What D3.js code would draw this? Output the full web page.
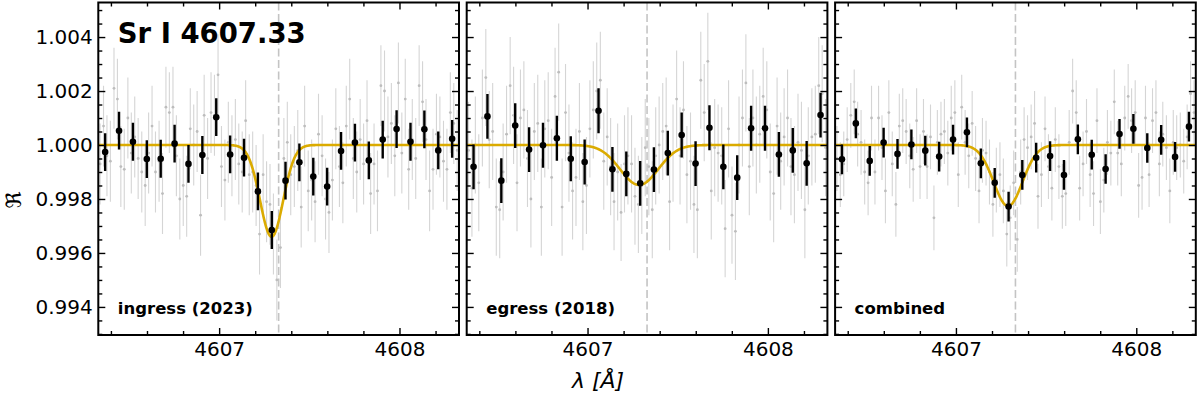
<!DOCTYPE html>
<html>
<head>
<meta charset="utf-8">
<script src="https://cdnjs.cloudflare.com/ajax/libs/d3/7.8.5/d3.min.js"></script>
<style>
  body { margin: 0; background: #fff; }
  text { font-family: "DejaVu Sans", sans-serif; }
</style>
</head>
<body>
<script>
//dimensions declarations
var width = 1200;
var height = 397;
var panelLeft = [98.3, 466.7, 835.1];
var panelW = 360.7;
var plotTop = 2.5, plotBottom = 335;

//dataset declarations
var panelNames = ["ingress (2023)", "egress (2018)", "combined"];
var lineLabel = "Sr I 4607.33";
var lineCenter = 4607.33;
var xDomain = [4606.33, 4608.33];
var yDomain = [0.99296, 1.00528];
var xMajor = [4607, 4608];
var yMajor = [0.994, 0.996, 0.998, 1.000, 1.002, 1.004];

// unbinned pixels (grey)
var wave = [4606.340, 4606.359, 4606.378, 4606.397, 4606.417, 4606.436, 4606.455, 4606.474,
  4606.494, 4606.513, 4606.532, 4606.551, 4606.571, 4606.590, 4606.609, 4606.628,
  4606.647, 4606.667, 4606.686, 4606.705, 4606.724, 4606.744, 4606.763, 4606.782,
  4606.801, 4606.820, 4606.840, 4606.859, 4606.878, 4606.897, 4606.917, 4606.936,
  4606.955, 4606.974, 4606.994, 4607.013, 4607.032, 4607.051, 4607.071, 4607.090,
  4607.109, 4607.128, 4607.147, 4607.167, 4607.186, 4607.205, 4607.224, 4607.244,
  4607.263, 4607.282, 4607.301, 4607.320, 4607.340, 4607.359, 4607.378, 4607.397,
  4607.417, 4607.436, 4607.455, 4607.474, 4607.494, 4607.513, 4607.532, 4607.551,
  4607.571, 4607.590, 4607.609, 4607.628, 4607.647, 4607.667, 4607.686, 4607.705,
  4607.724, 4607.744, 4607.763, 4607.782, 4607.801, 4607.820, 4607.840, 4607.859,
  4607.878, 4607.897, 4607.917, 4607.936, 4607.955, 4607.974, 4607.994, 4608.013,
  4608.032, 4608.051, 4608.071, 4608.090, 4608.109, 4608.128, 4608.147, 4608.167,
  4608.186, 4608.205, 4608.224, 4608.244, 4608.263, 4608.282, 4608.301, 4608.320];

var rawIngress = [0.9993, 1.0007, 0.9996, 0.9994, 1.0021, 1.0017, 0.9992, 0.9991,
  1.0010, 0.9997, 1.0003, 0.9995, 0.9990, 0.9985, 0.9997, 1.0007,
  0.9990, 0.9994, 0.9982, 1.0014, 1.0012, 1.0014, 0.9996, 0.9980,
  0.9985, 0.9981, 1.0006, 1.0000, 1.0005, 0.9974, 1.0011, 0.9995,
  1.0012, 1.0011, 1.0026, 0.9992, 0.9987, 1.0001, 0.9996, 1.0002,
  0.9993, 0.9990, 1.0009, 0.9989, 0.9990, 0.9985, 0.9967, 0.9989,
  0.9979, 0.9978, 0.9967, 0.9950, 0.9962, 0.9995, 1.0001, 0.9989,
  0.9992, 0.9998, 0.9977, 1.0007, 0.9983, 0.9987, 0.9979, 1.0004,
  0.9996, 0.9980, 0.9975, 0.9987, 1.0006, 0.9992, 0.9986, 1.0007,
  1.0017, 0.9995, 0.9990, 1.0002, 0.9993, 1.0009, 0.9982, 0.9993,
  0.9983, 1.0022, 1.0020, 1.0003, 1.0008, 0.9996, 1.0023, 0.9997,
  1.0017, 0.9991, 1.0002, 0.9995, 1.0022, 1.0016, 1.0002, 0.9983,
  0.9991, 1.0004, 1.0003, 0.9994, 0.9991, 1.0012, 1.0008, 0.9998];

var rawEgress = [0.9998, 0.9984, 1.0000, 0.9986, 1.0010, 1.0025, 1.0002, 1.0005,
  0.9977, 0.9976, 0.9990, 1.0004, 1.0022, 1.0011, 0.9986, 1.0010,
  1.0013, 0.9995, 0.9980, 1.0005, 1.0008, 0.9977, 1.0006, 1.0009,
  0.9988, 1.0018, 1.0027, 0.9977, 1.0012, 0.9997, 0.9983, 0.9988,
  1.0005, 0.9979, 0.9985, 1.0006, 1.0013, 1.0020, 1.0024, 0.9994,
  1.0003, 0.9992, 0.9979, 0.9990, 0.9975, 0.9993, 0.9996, 0.9993,
  0.9981, 0.9978, 0.9985, 0.9999, 0.9992, 0.9976, 0.9996, 1.0000,
  1.0005, 1.0007, 0.9979, 0.9997, 1.0017, 0.9996, 1.0013, 0.9989,
  0.9994, 0.9978, 0.9976, 1.0024, 1.0012, 1.0031, 0.9983, 0.9999,
  0.9997, 0.9996, 0.9969, 1.0006, 0.9974, 0.9968, 1.0000, 1.0010,
  1.0023, 0.9992, 1.0010, 1.0000, 1.0004, 1.0018, 1.0013, 0.9990,
  0.9982, 1.0007, 0.9994, 1.0003, 1.0010, 0.9992, 0.9989, 1.0001,
  0.9998, 0.9976, 0.9996, 1.0003, 1.0004, 1.0022, 1.0019, 0.9999];

var rawCombined = [0.9995, 0.9989, 0.9993, 1.0002, 1.0011, 1.0016, 1.0004, 1.0001,
  0.9990, 0.9986, 1.0010, 0.9990, 1.0010, 0.9999, 0.9983, 1.0012,
  0.9993, 0.9978, 1.0007, 1.0009, 1.0005, 0.9996, 0.9991, 1.0009,
  0.9992, 1.0005, 0.9992, 1.0003, 0.9973, 1.0001, 1.0004, 1.0005,
  0.9997, 1.0010, 1.0012, 0.9989, 1.0014, 1.0001, 0.9996, 1.0008,
  0.9995, 0.9983, 0.9998, 0.9997, 0.9990, 0.9978, 0.9987, 0.9989,
  0.9983, 0.9967, 0.9973, 0.9986, 0.9965, 0.9990, 1.0002, 0.9999,
  1.0003, 1.0008, 0.9981, 0.9989, 1.0006, 0.9992, 0.9984, 1.0002,
  0.9992, 0.9981, 0.9982, 1.0001, 1.0020, 1.0012, 0.9984, 0.9993,
  1.0005, 0.9989, 0.9982, 1.0009, 0.9979, 0.9987, 1.0001, 0.9997,
  1.0016, 0.9997, 0.9993, 1.0010, 1.0018, 1.0009, 1.0012, 0.9985,
  0.9988, 1.0010, 0.9989, 1.0009, 1.0012, 0.9993, 1.0004, 0.9999,
  0.9983, 1.0001, 0.9999, 1.0000, 0.9994, 1.0003, 1.0019, 1.0012];

var rawErr = [0.0015, 0.0018, 0.0012];

// binned points (black)
var binWave = [4606.368, 4606.445, 4606.522, 4606.599, 4606.676, 4606.753, 4606.830,
  4606.907, 4606.984, 4607.061, 4607.138, 4607.215, 4607.292, 4607.368, 4607.445,
  4607.522, 4607.599, 4607.676, 4607.753, 4607.830, 4607.907, 4607.984, 4608.061,
  4608.138, 4608.215, 4608.292];

var binIngress = [0.99974, 1.00053, 1.00012, 0.99948, 0.99949, 1.00005, 0.99930,
  0.99963, 1.00103, 0.99965, 0.99953, 0.99828, 0.99685, 0.99868, 0.99936,
  0.99883, 0.99846, 0.99978, 1.00009, 0.99943, 1.00020, 1.00059, 1.00012,
  1.00058, 0.99980, 1.00023];

var binEgress = [0.99919, 1.00106, 0.99868, 1.00072, 0.99983, 0.99999, 1.00025,
  0.99949, 0.99937, 1.00127, 0.99910, 0.99893, 0.99858, 0.99909, 0.99970,
  1.00037, 0.99931, 1.00064, 0.99919, 0.99879, 1.00062, 1.00062, 0.99965,
  0.99980, 0.99932, 1.00111];

var binCombined = [0.99947, 1.00080, 0.99941, 1.00009, 0.99967, 1.00002, 0.99979,
  0.99957, 1.00020, 1.00047, 0.99932, 0.99860, 0.99772, 0.99889, 0.99953,
  0.99959, 0.99889, 1.00021, 0.99964, 0.99911, 1.00041, 1.00060, 0.99989,
  1.00019, 0.99956, 1.00068];

var binErr = [0.0007, 0.00083, 0.00055];

// gaussian fit parameters
var fitCenter = [4607.291, 4607.286, 4607.289];
var fitDepth = [0.00340, 0.00148, 0.00226];
var fitSigma = [0.064, 0.106, 0.080];

var rawSets = [rawIngress, rawEgress, rawCombined];
var binSets = [binIngress, binEgress, binCombined];

var svg = d3.select("body").append("svg")
    .attr("width", width)
    .attr("height", height);

svg.append("rect").attr("width", width).attr("height", height).attr("fill", "#fff");

var x = d3.scaleLinear().domain(xDomain).range([0, panelW]);
var y = d3.scaleLinear().domain(yDomain).range([plotBottom - plotTop, 0]);
var ph = plotBottom - plotTop;

var defs = svg.append("defs");
defs.append("clipPath").attr("id", "clip")
  .append("rect").attr("width", panelW).attr("height", ph);

var xMinor = d3.range(4606.4, 4608.33, 0.2).filter(function(v) {
  return Math.abs(v - Math.round(v)) > 0.01;
});
var yMinor = d3.range(0.9930, 1.0053, 0.0005).filter(function(v) {
  return Math.abs(v * 500 - Math.round(v * 500)) > 0.01;
});

var fitGrid = d3.range(xDomain[0], xDomain[1] + 0.001, 0.002);

panelNames.forEach(function(name, p) {
  var g = svg.append("g").attr("transform", "translate(" + panelLeft[p] + "," + plotTop + ")");
  var plot = g.append("g").attr("clip-path", "url(#clip)");

  // line centre
  plot.append("line")
    .attr("x1", x(lineCenter)).attr("x2", x(lineCenter))
    .attr("y1", 0).attr("y2", ph)
    .attr("stroke", "#c4c4c4").attr("stroke-width", 1.6)
    .attr("stroke-dasharray", "8,3.5");

  // raw pixels
  var raw = rawSets[p];
  plot.selectAll(".rawbar")
    .data(raw)
    .enter().append("line")
    .attr("x1", function(d, i) { return x(wave[i]); })
    .attr("x2", function(d, i) { return x(wave[i]); })
    .attr("y1", function(d) { return y(d - rawErr[p]); })
    .attr("y2", function(d) { return y(d + rawErr[p]); })
    .attr("stroke", "#d5d5d5").attr("stroke-width", 1.1);

  plot.selectAll(".rawdot")
    .data(raw)
    .enter().append("circle")
    .attr("cx", function(d, i) { return x(wave[i]); })
    .attr("cy", function(d) { return y(d); })
    .attr("r", 1.4)
    .attr("fill", "#bdbdbd");

  // gaussian fit
  var fit = d3.line()
    .x(function(d) { return x(d); })
    .y(function(d) {
      return y(1 - fitDepth[p] * Math.exp(-Math.pow(d - fitCenter[p], 2) / (2 * fitSigma[p] * fitSigma[p])));
    });
  plot.append("path")
    .datum(fitGrid)
    .attr("d", fit)
    .attr("fill", "none")
    .attr("stroke", "#dbab00")
    .attr("stroke-width", 2.6);

  // binned points
  var bins = binSets[p];
  plot.selectAll(".binbar")
    .data(bins)
    .enter().append("line")
    .attr("x1", function(d, i) { return x(binWave[i]); })
    .attr("x2", function(d, i) { return x(binWave[i]); })
    .attr("y1", function(d) { return y(d - binErr[p]); })
    .attr("y2", function(d) { return y(d + binErr[p]); })
    .attr("stroke", "#000").attr("stroke-width", 2.4);

  plot.selectAll(".bindot")
    .data(bins)
    .enter().append("circle")
    .attr("cx", function(d, i) { return x(binWave[i]); })
    .attr("cy", function(d) { return y(d); })
    .attr("r", 3.3)
    .attr("fill", "#000");

  // axes, ticks pointing inward
  g.append("g").attr("transform", "translate(0," + ph + ")")
    .call(d3.axisBottom(x).tickValues(xMajor).tickSize(-7).tickPadding(6.5).tickFormat(d3.format("d")));
  g.append("g").attr("transform", "translate(0," + ph + ")")
    .call(d3.axisBottom(x).tickValues(xMinor).tickSize(-4).tickFormat(""));
  g.append("g")
    .call(d3.axisTop(x).tickValues(xMajor).tickSize(-7).tickFormat(""));
  g.append("g")
    .call(d3.axisTop(x).tickValues(xMinor).tickSize(-4).tickFormat(""));
  g.append("g")
    .call(d3.axisLeft(y).tickValues(yMajor).tickSize(-7).tickPadding(5.5)
      .tickFormat(p === 0 ? d3.format(".3f") : ""));
  g.append("g")
    .call(d3.axisLeft(y).tickValues(yMinor).tickSize(-4).tickFormat(""));
  g.append("g").attr("transform", "translate(" + panelW + ",0)")
    .call(d3.axisRight(y).tickValues(yMajor).tickSize(-7).tickFormat(""));
  g.append("g").attr("transform", "translate(" + panelW + ",0)")
    .call(d3.axisRight(y).tickValues(yMinor).tickSize(-4).tickFormat(""));

  g.selectAll(".domain").remove();
  g.selectAll(".tick line").attr("stroke", "#000").attr("stroke-width", 1.4);
  g.selectAll(".tick text")
    .attr("fill", "#000")
    .style("font-family", "'DejaVu Sans', sans-serif")
    .style("font-size", "20px");

  // frame
  g.append("rect")
    .attr("width", panelW).attr("height", ph)
    .attr("fill", "none").attr("stroke", "#000").attr("stroke-width", 2);

  // panel label
  g.append("text")
    .attr("x", 19.5).attr("y", 314 - plotTop)
    .style("font-size", "16.5px").style("font-weight", "bold")
    .text(name);

  if (p === 0) {
    g.append("text")
      .attr("x", 19.4).attr("y", 42.7 - plotTop)
      .style("font-size", "27.5px").style("font-weight", "bold")
      .text(lineLabel);
  }
});

// axis titles
svg.append("text")
  .attr("transform", "translate(21,200) rotate(-90)")
  .attr("text-anchor", "middle")
  .style("font-size", "21px")
  .text("\u211C");

svg.append("text")
  .attr("x", 598).attr("y", 388)
  .attr("text-anchor", "middle")
  .style("font-size", "22px")
  .style("font-style", "italic")
  .text("\u03BB [\u00C5]");
</script>
</body>
</html>
